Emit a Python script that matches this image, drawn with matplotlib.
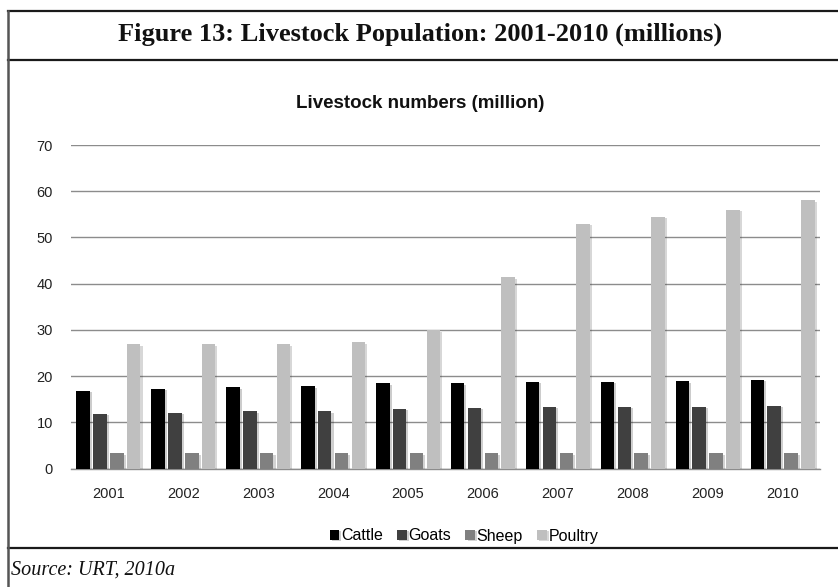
import numpy as np
import matplotlib
matplotlib.use("Agg")
import matplotlib.pyplot as plt
import matplotlib.patheffects as pe
from matplotlib.lines import Line2D

# Livestock numbers in millions, 2001-2010
years = ["2001", "2002", "2003", "2004", "2005", "2006", "2007", "2008", "2009", "2010"]
cattle = [16.8, 17.3, 17.6, 17.8, 18.4, 18.4, 18.7, 18.7, 18.9, 19.2]
goats = [11.8, 12.0, 12.4, 12.4, 12.9, 13.1, 13.3, 13.3, 13.3, 13.5]
sheep = [3.3, 3.3, 3.3, 3.3, 3.3, 3.3, 3.3, 3.3, 3.3, 3.3]
poultry = [26.9, 26.9, 26.9, 27.3, 29.9, 41.4, 53.0, 54.5, 56.0, 58.0]

series = [("Cattle", cattle, "#000000"),
          ("Goats", goats, "#404040"),
          ("Sheep", sheep, "#808080"),
          ("Poultry", poultry, "#bfbfbf")]

W, H = 838, 587
fig = plt.figure(figsize=(W / 100, H / 100), dpi=100)

# frame around the figure box
def hline(y, x0=8, x1=W, lw=1.6, c="#1a1a1a"):
    fig.add_artist(Line2D([x0 / W, x1 / W], [1 - y / H, 1 - y / H], lw=lw, color=c))

hline(11)
hline(60)
hline(548)
fig.add_artist(Line2D([8 / W, 8 / W], [1 - 11 / H, 0], lw=1.8, color="#555555"))

fig.text(420 / W, 1 - 34 / H, "Figure 13: Livestock Population: 2001-2010 (millions)",
         ha="center", va="center", fontsize=19, family="Liberation Serif",
         fontweight="bold", color="#111111")
fig.text(11 / W, 1 - 570 / H, "Source: URT, 2010a", ha="left", va="center",
         fontsize=14.5, family="Liberation Serif", style="italic", color="#111111")
fig.text(420 / W, 1 - 103 / H, "Livestock numbers (million)", ha="center", va="center",
         fontsize=13.5, family="Liberation Sans", fontweight="bold", color="#111111")

ax = fig.add_axes([71 / W, 118.5 / H, (820 - 71) / W, (468.5 - 145) / H])

x = np.arange(len(years))
step = 0.225
width = 0.18
shadow = [pe.SimplePatchShadow(offset=(1.5, -1), alpha=0.2), pe.Normal()]
for i, (name, vals, col) in enumerate(series):
    bars = ax.bar(x + (i - 1.5) * step, vals, width, color=col, label=name, zorder=3)
    for b in bars:
        b.set_path_effects(shadow)

ax.set_xlim(-0.5, len(years) - 0.5)
ax.set_ylim(0, 70)
ax.set_yticks(range(0, 71, 10))
ax.set_xticks(x)
ax.set_xticklabels(years)
ax.yaxis.grid(True, color="#8c8c8c", lw=1.0, zorder=0)
ax.set_axisbelow(True)
for s in ["left", "right", "top"]:
    ax.spines[s].set_visible(False)
ax.spines["bottom"].set_color("#8c8c8c")
ax.spines["bottom"].set_linewidth(1.0)
ax.tick_params(axis="both", length=0, labelsize=10.5, colors="#222222")
ax.tick_params(axis="y", pad=13)
ax.tick_params(axis="x", pad=13)
for lab in ax.get_xticklabels() + ax.get_yticklabels():
    lab.set_family("Liberation Sans")

fig.legend(loc="center", bbox_to_anchor=(464 / W, 1 - 536 / H), ncol=4, frameon=False,
           handlelength=0.6, handleheight=0.6, handletextpad=0.1, columnspacing=0.9,
           prop={"family": "Liberation Sans", "size": 11.5})

fig.savefig("out.png", dpi=100, facecolor="white")
